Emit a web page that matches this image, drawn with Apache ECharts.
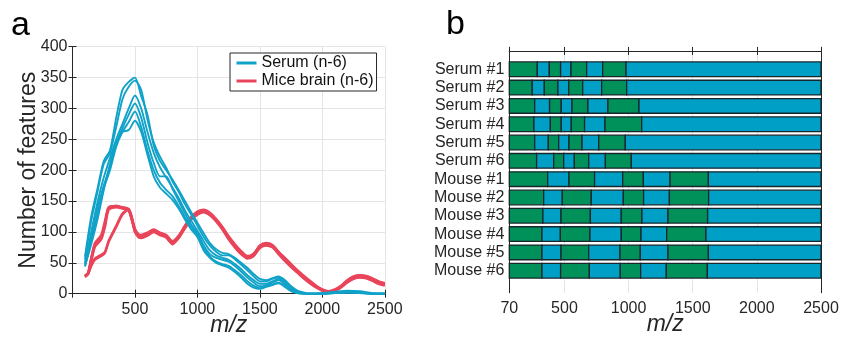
<!DOCTYPE html>
<html>
<head>
<meta charset="utf-8">
<script src="https://cdn.jsdelivr.net/npm/echarts@6/dist/echarts.min.js"></script>
<style>
  html, body { margin: 0; padding: 0; background: #fff; }
  #chart { width: 843px; height: 337px; }
</style>
</head>
<body>
<div id="chart"></div>
<script>
// ---- Panel a: number of features per m/z bin ----
const serumMz = [100,150,200,250,300,350,400,450,500,550,600,650,700,750,800,850,900,950,1000,
  1050,1100,1150,1200,1250,1300,1350,1400,1450,1500,1550,1600,1650,1700,1750,1800,1850,1900,
  2000,2100,2200,2300,2400,2500];
const serum1 = [60,125,170,215,232,285,330,343,350, 320,290,240,215,200,185,168,150,132,115,
  98,82,72,66,64,58,50,42,32,24, 22,25,28,22,12,5,2,0, 1,3,5,4,1,0];
const serum2 = [55,118,165,210,228,270,315,335,345, 330,282,245,222,204,182,165,145,128,110,
  92,78,68,62,62,56,47,38,28,20, 20,24,26,20,11,4,1,0, 0,2,4,3,0,0];
const serum3 = [50,100,148,188,220,250,275,300,321, 300,262,228,205,188,172,155,135,118,102,
  85,70,62,58,55,48,40,30,22,16, 16,20,24,18,9,3,1,0, 0,1,3,2,0,0];
const serum4 = [48,92,138,175,205,242,268,290,308, 285,245,212,190,190,170,150,130,112,98,
  78,64,58,55,52,45,36,26,18,12, 14,18,22,15,7,2,0,0, 0,1,2,1,0,0];
const serum5 = [45,85,128,170,200,238,262,278,295, 270,232,200,180,168,158,142,124,108,95,
  74,60,52,48,45,38,30,20,13,9, 12,15,18,12,5,1,0,0, 0,1,2,1,0,0];
const serum6 = [44,80,120,168,210,245,262,265,280, 262,225,190,172,162,152,138,120,104,92,
  70,58,50,46,42,35,26,16,10,8, 11,14,17,11,4,1,0,0, 0,2,3,2,0,0];

const brainMz = [100,125,150,180,230,260,290,350,400,450, 500,530,550,600,650,700,750,800,850,900,
  950,1000,1050,1100,1150,1200,1250,1300,1350,1400, 1450,1500,1550,1600,1650,1700,1750,1800,1850,1900,
  1950,2000,2050,2100,2150,2200,2250,2300,2350,2400, 2450,2500];
const brain1 = [28,33,55,78,90,112,138,141,139,136, 102,93,92,96,102,97,93,82,92,108,
  122,130,134,129,119,106,90,77,66,59, 63,76,80,77,66,55,45,36,27,19, 12,6,3,5,12,20,26,28,27,23, 18,15];
const brain2 = [29,34,58,82,95,118,140,142,140,137, 105,96,95,99,104,99,95,85,94,110,
  124,133,136,131,121,108,93,80,69,61, 65,78,82,79,68,58,48,38,29,21, 13,7,4,7,13,22,28,30,29,25, 20,17];
const brain3 = [27,32,52,76,88,108,136,140,138,135, 100,91,90,94,100,95,91,80,90,106,
  120,128,132,127,117,104,88,75,64,57, 61,74,78,75,64,53,43,34,25,17, 10,5,2,4,10,18,24,26,25,21, 16,13];
const brain4 = [28,33,56,80,92,114,139,142,139,136, 103,95,93,97,103,98,94,83,93,109,
  123,131,135,130,120,107,91,78,67,60, 64,77,81,78,67,56,46,37,28,20, 12,6,3,6,12,21,27,29,28,24, 19,16];
const brain5 = [29,33,45,55,61,66,84,108,128,137, 104,94,93,97,102,98,94,84,93,109,
  123,132,135,130,120,107,92,79,68,60, 64,77,81,78,67,56,47,37,28,20, 12,6,3,6,12,21,27,29,28,24, 19,16];
const brain6 = [28,32,46,57,63,68,86,110,130,136, 101,92,91,95,101,96,92,81,91,107,
  121,129,133,128,118,105,89,76,65,58, 62,75,79,76,65,54,44,35,26,18, 11,5,2,4,11,19,25,27,26,22, 17,14];

// ---- Panel b: m/z bin boundaries per sample ----
const rowNames = ['Serum #1','Serum #2','Serum #3','Serum #4','Serum #5','Serum #6',
  'Mouse #1','Mouse #2','Mouse #3','Mouse #4','Mouse #5','Mouse #6'];
const serumEdges = [
  [288,382,470,551,673,798,980],
  [249,343,449,533,642,790,985],
  [268,384,475,559,683,839,1081],
  [262,390,475,553,657,816,1102],
  [268,374,455,535,637,767,974],
  [283,416,494,577,689,819,1021]
];
const mouseEdges = [
  [369,535,735,954,1115,1323,1622],
  [338,483,709,959,1117,1318,1624],
  [332,473,702,943,1104,1307,1616],
  [325,468,699,943,1097,1297,1603],
  [325,473,689,933,1091,1307,1622],
  [325,470,694,935,1094,1294,1614]
];
const mzStart = 70;
const mzEnd = 2500;
const binTicks = [70,500,1000,1500,2000,2500];
const binGrid = [500,1000,1500,2000];

const INK = '#262626';
const SERUM_COLOR = '#10a2c8';
const BRAIN_COLOR = '#e9455a';
const GREEN = '#00915a';
const BLUE = '#00a0c6';
const FONT = 'Liberation Sans, Arial, sans-serif';

const pairs = (xs, ys) => xs.map((x, i) => [x, ys[i]]);
const plain = v => String(v);

const serumSets = [serum1, serum2, serum3, serum4, serum5, serum6];
const brainSets = [brain1, brain2, brain3, brain4, brain5, brain6];

const lineSeries = [];
brainSets.forEach(ys => lineSeries.push({
  type: 'line', name: 'Mice brain (n-6)', xAxisIndex: 0, yAxisIndex: 0,
  data: pairs(brainMz, ys), symbol: 'none', smooth: 0.25,
  lineStyle: { color: BRAIN_COLOR, width: 2.4 }, itemStyle: { color: BRAIN_COLOR }, z: 2
}));
serumSets.forEach(ys => lineSeries.push({
  type: 'line', name: 'Serum (n-6)', xAxisIndex: 0, yAxisIndex: 0,
  data: pairs(serumMz, ys), symbol: 'none', smooth: 0.25,
  lineStyle: { color: SERUM_COLOR, width: 1.9 }, itemStyle: { color: SERUM_COLOR }, z: 3
}));

// segments: [start, end, row, colourIndex]  (0 = green, 1 = blue)
const segments = [];
serumEdges.concat(mouseEdges).forEach((edges, r) => {
  const bounds = [mzStart].concat(edges, [mzEnd]);
  for (let i = 0; i < bounds.length - 1; i++) {
    segments.push([bounds[i], bounds[i + 1], r + 1, i % 2]);
  }
});

function renderSegment(params, api) {
  const p0 = api.coord([api.value(0), api.value(2)]);
  const p1 = api.coord([api.value(1), api.value(2)]);
  const h = api.size([0, 0.8])[1];
  return {
    type: 'rect',
    shape: { x: p0[0], y: p0[1] - h / 2, width: p1[0] - p0[0], height: h },
    style: { fill: api.value(3) === 1 ? BLUE : GREEN, stroke: '#18262c', lineWidth: 1.3 }
  };
}

const tickStyle = { show: true, inside: true, length: 4, lineStyle: { color: INK, width: 1 } };
const lineStyleAxis = { show: true, lineStyle: { color: INK, width: 1 } };
const labelStyle = { fontSize: 16, color: INK, fontFamily: FONT };
const rows = rowNames.map((_, i) => i + 1);
const axisTitle = { fontSize: 23, fontStyle: 'italic', color: INK, fontFamily: FONT };

const option = {
  animation: false,
  textStyle: { fontFamily: FONT },
  grid: [
    { left: 72.5, top: 46.7, width: 312.3, height: 247, outerBoundsMode: 'none', containLabel: false },
    { left: 509.3, top: 47.3, width: 311.7, height: 245.4, outerBoundsMode: 'none', containLabel: false }
  ],
  legend: {
    data: ['Serum (n-6)', 'Mice brain (n-6)'],
    orient: 'vertical', left: 230, top: 53,
    itemWidth: 20, itemHeight: 16, itemGap: 2,
    padding: [2, 3, 2, 5],
    borderColor: INK, borderWidth: 1, backgroundColor: '#fff',
    lineStyle: { width: 3 },
    itemStyle: { opacity: 0 },
    textStyle: { fontSize: 16, color: '#111', fontFamily: FONT, lineHeight: 16 }
  },
  graphic: [
    { type: 'text', left: 11, top: 9, style: { text: 'a', fontSize: 34, fill: '#000', fontFamily: FONT } },
    { type: 'text', left: 446, top: 8, style: { text: 'b', fontSize: 34, fill: '#000', fontFamily: FONT } }
  ],
  xAxis: [
    {
      gridIndex: 0, type: 'value', min: 0, max: 2500, interval: 500,
      axisLine: lineStyleAxis, axisTick: tickStyle,
      axisLabel: Object.assign({ margin: 8, showMinLabel: false, formatter: plain }, labelStyle),
      splitLine: { show: true, lineStyle: { color: '#e4e4e4', width: 1 } },
      name: 'm/z', nameLocation: 'middle', nameGap: 20, nameMoveOverlap: false,
      nameTextStyle: axisTitle
    },
    {
      gridIndex: 0, type: 'value', position: 'top', min: 0, max: 2500, interval: 500,
      axisLine: lineStyleAxis, axisTick: tickStyle, axisLabel: { show: false }, splitLine: { show: false }
    },
    {
      gridIndex: 1, type: 'value', min: mzStart, max: mzEnd,
      axisLine: lineStyleAxis,
      axisTick: Object.assign({ customValues: binTicks }, tickStyle),
      axisLabel: Object.assign({ margin: 8, customValues: binTicks, formatter: plain }, labelStyle),
      splitLine: { show: false },
      name: 'm/z', nameLocation: 'middle', nameGap: 20, nameMoveOverlap: false,
      nameTextStyle: axisTitle
    },
    {
      gridIndex: 1, type: 'value', position: 'top', min: mzStart, max: mzEnd,
      axisLine: lineStyleAxis,
      axisTick: Object.assign({ customValues: binTicks }, tickStyle),
      axisLabel: { show: false }, splitLine: { show: false }
    }
  ],
  yAxis: [
    {
      gridIndex: 0, type: 'value', min: 0, max: 400, interval: 50,
      axisLine: lineStyleAxis, axisTick: tickStyle,
      axisLabel: Object.assign({ margin: 5, formatter: plain }, labelStyle),
      splitLine: { show: true, lineStyle: { color: '#e4e4e4', width: 1 } },
      name: 'Number of features', nameLocation: 'middle', nameGap: 32, nameMoveOverlap: false,
      nameTextStyle: { fontSize: 23, color: INK, fontFamily: FONT }
    },
    {
      gridIndex: 0, type: 'value', position: 'right', min: 0, max: 400, interval: 50,
      axisLine: lineStyleAxis, axisTick: tickStyle, axisLabel: { show: false }, splitLine: { show: false }
    },
    {
      gridIndex: 1, type: 'value', min: -0.2, max: 13.2, inverse: true,
      axisLine: lineStyleAxis,
      axisTick: Object.assign({ customValues: rows }, tickStyle),
      axisLabel: Object.assign({ margin: 5, customValues: rows,
        formatter: v => rowNames[Math.round(v) - 1] || '' }, labelStyle),
      splitLine: { show: false }
    },
    {
      gridIndex: 1, type: 'value', position: 'right', min: -0.2, max: 13.2, inverse: true,
      axisLine: lineStyleAxis,
      axisTick: Object.assign({ customValues: rows }, tickStyle),
      axisLabel: { show: false }, splitLine: { show: false }
    }
  ],
  series: lineSeries.concat([
    {
      type: 'line', xAxisIndex: 2, yAxisIndex: 2, data: [[mzStart, -0.2]],
      symbol: 'none', lineStyle: { opacity: 0 }, silent: true, z: 0,
      markLine: {
        silent: true, symbol: 'none', z: 0, animation: false,
        label: { show: false },
        lineStyle: { color: '#e4e4e4', type: 'solid', width: 1 },
        data: binGrid.map(v => ({ xAxis: v }))
      }
    },
    {
      type: 'custom', xAxisIndex: 2, yAxisIndex: 2,
      renderItem: renderSegment, data: segments,
      encode: { x: [0, 1], y: 2 }, z: 3
    }
  ])
};

const chart = echarts.init(document.getElementById('chart'), null, { renderer: 'canvas' });
chart.setOption(option);
</script>
</body>
</html>
